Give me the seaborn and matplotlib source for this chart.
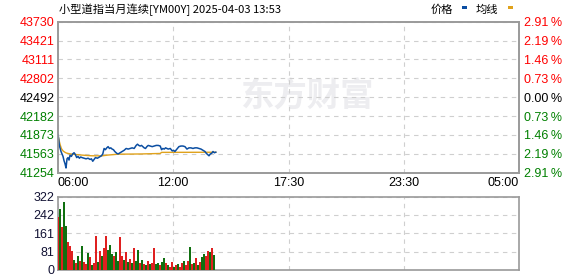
import numpy as np
import pandas as pd
import matplotlib
matplotlib.use("Agg")
import matplotlib.pyplot as plt
import seaborn as sns
from matplotlib.patches import Rectangle

# ---------------- data ----------------
title = "小型道指当月连续[YM00Y] 2025-04-03 13:53"
time_labels = ["06:00", "12:00", "17:30", "23:30", "05:00"]
time_ticks = [0, 345, 690, 1035, 1380]
session_end = 1380
price_ticks = [43730, 43421, 43111, 42802, 42492, 42182, 41873, 41563, 41254]
pct_labels = ["2.91\u2009%", "2.19\u2009%", "1.46\u2009%", "0.73\u2009%", "0.00\u2009%",
              "0.73\u2009%", "1.46\u2009%", "2.19\u2009%", "2.91\u2009%"]
vol_ticks = [0, 81, 161, 242, 322]

price_min = [0, 2, 4, 6, 9, 12, 15, 18, 21, 24, 27, 30, 33, 36, 40, 44, 48, 52, 56, 60,
             64, 68, 72, 78, 84, 90, 96, 100, 104, 108, 112, 118, 124, 130, 134, 138, 142,
             146, 150, 154, 158, 162, 166, 170, 176, 180, 186, 192, 198, 204, 210, 216,
             222, 228, 234, 238, 242, 246, 250, 254, 258, 262, 266, 270, 276, 282, 288,
             294, 300, 306, 310, 314, 318, 322, 326, 330, 336, 342, 346, 350, 356, 362,
             368, 374, 380, 386, 392, 398, 404, 410, 416, 422, 428, 434, 440, 444, 448,
             452, 456, 460, 464, 468, 473]
price_val = [41880, 41800, 41700, 41660, 41600, 41560, 41520, 41450, 41400, 41330, 41480,
             41500, 41460, 41540, 41520, 41560, 41580, 41550, 41500, 41520, 41490, 41510,
             41500, 41490, 41480, 41490, 41470, 41480, 41440, 41470, 41500, 41490, 41510,
             41530, 41560, 41650, 41630, 41660, 41680, 41650, 41660, 41640, 41630, 41600,
             41570, 41560, 41580, 41600, 41620, 41650, 41640, 41650, 41660, 41650, 41700,
             41720, 41700, 41690, 41700, 41680, 41660, 41650, 41680, 41700, 41690, 41680,
             41690, 41700, 41700, 41690, 41630, 41650, 41640, 41660, 41650, 41640, 41650,
             41610, 41620, 41600, 41640, 41680, 41690, 41690, 41680, 41640, 41660, 41660,
             41650, 41660, 41660, 41650, 41640, 41620, 41600, 41570, 41550, 41530, 41560,
             41570, 41600, 41580, 41590]

avg_min = [0, 3, 6, 10, 15, 20, 25, 35, 50, 70, 100, 130, 150, 180, 250, 306, 310, 473]
avg_val = [41873, 41790, 41720, 41650, 41610, 41590, 41575, 41562, 41552, 41542, 41530,
           41528, 41542, 41556, 41560, 41568, 41586, 41588]

vol_min = list(range(0, 474, 6))
vol_val = [232, 268, 190, 300, 195, 125, 105, 82, 45, 30, 60, 40, 105, 35, 25, 73, 55, 20,
           30, 149, 35, 85, 60, 95, 151, 90, 112, 70, 60, 80, 40, 143, 60, 45, 80, 35, 50,
           30, 95, 40, 88, 30, 45, 25, 20, 40, 25, 30, 95, 25, 30, 20, 35, 53, 30, 20, 15,
           35, 15, 20, 25, 15, 30, 40, 20, 40, 100, 25, 30, 53, 20, 35, 55, 70, 60, 85, 80,
           95, 66]
vol_dir = list("rgrgg" "rrrgr" "grgrr" "grgrr" "grgrr" "gggrg" "grrgr" "grgrg" "grgrg"
               "rgrrg" "grggr" "grrgr" "grrgr" "rgrgr" "grggr" "rgrg")

# ---------------- style ----------------
BLUE = "#0b4ea2"
ORANGE = "#e0a21c"
RED = "#ff0000"
GREEN = "#008000"
GRID = "#cfcfcf"
SPINE = "#9a9a9a"
CJK = ["Noto Sans CJK SC", "DejaVu Sans"]

sns.set_theme(style="white")
plt.rcParams["font.family"] = ["Liberation Sans", "DejaVu Sans"]

W, H = 578, 276
fig = plt.figure(figsize=(W / 100, H / 100), dpi=100)
fig.patch.set_facecolor("white")

ax = fig.add_axes([58 / W, (H - 172.6) / H, 461 / W, 150.9 / H])
ax2 = fig.add_axes([58 / W, (H - 270) / H, 461 / W, 73.3 / H])

# watermark
ax.text(0.54, 0.50, "东方财富", transform=ax.transAxes, ha="center", va="center",
        fontsize=24, fontweight="bold", color="#ededf0", family=CJK, zorder=0)

# price + average
sns.lineplot(x=price_min, y=price_val, ax=ax, color=BLUE, lw=1.1, zorder=3)
sns.lineplot(x=avg_min, y=avg_val, ax=ax, color=ORANGE, lw=1.0, zorder=2)

ax.set_xlim(0, session_end)
ax.set_ylim(price_ticks[-1], price_ticks[0])
ax.set_yticks(price_ticks)
ax.set_yticklabels([str(v) for v in price_ticks])
ax.set_xticks(time_ticks)
ax.set_xticklabels(time_labels)
ax.set_xlabel("")
ax.set_ylabel("")
ax.grid(True, color=GRID, ls=(0, (4, 4)), lw=0.8)
ax.tick_params(axis="both", length=0, labelsize=9)
ax.tick_params(axis="y", pad=2.5)
ax.tick_params(axis="x", pad=3)
n = len(price_ticks)
for i, lab in enumerate(ax.get_yticklabels()):
    if i < n // 2:
        lab.set_color(RED)
    elif i == n // 2:
        lab.set_color("#000000")
    else:
        lab.set_color(GREEN)
xl = ax.get_xticklabels()
xl[0].set_ha("left")
xl[-1].set_ha("right")
for lab in xl:
    lab.set_color("#000000")

axr = ax.twinx()
axr.set_ylim(ax.get_ylim())
axr.set_yticks(price_ticks)
axr.set_yticklabels(pct_labels)
axr.tick_params(axis="y", length=0, labelsize=9, pad=3.5)
for i, lab in enumerate(axr.get_yticklabels()):
    if i < n // 2:
        lab.set_color(RED)
    elif i == n // 2:
        lab.set_color("#000000")
    else:
        lab.set_color(GREEN)
axr.grid(False)

for a in (ax, axr, ax2):
    for s in a.spines.values():
        s.set_color(SPINE)
        s.set_linewidth(1.2)
        s.set_visible(True)

# volume bars
vdf = pd.DataFrame({"t": vol_min, "v": vol_val, "d": vol_dir})
sns.barplot(data=vdf, x="t", y="v", hue="d", palette={"r": RED, "g": GREEN},
            native_scale=True, dodge=False, width=1.0, legend=False,
            linewidth=0, ax=ax2, zorder=3)
ax2.set_xlim(0, session_end)
ax2.set_ylim(0, vol_ticks[-1])
ax2.set_yticks(vol_ticks)
ax2.set_yticklabels([str(v) for v in vol_ticks])
ax2.set_xticks(time_ticks)
ax2.set_xticklabels([])
ax2.set_xlabel("")
ax2.set_ylabel("")
ax2.grid(True, color=GRID, ls=(0, (4, 4)), lw=0.8, zorder=0)
ax2.set_axisbelow(True)
ax2.tick_params(axis="both", length=0, labelsize=9, labelcolor="#111133")
ax2.tick_params(axis="y", pad=2.5)

# title + legend
fig.text(59 / W, 1 - 10 / H, title, ha="left", va="center", fontsize=8.1,
         family=CJK, color="#000000")
fig.text(431 / W, 1 - 10 / H, "价格", ha="left", va="center", fontsize=8.1,
         family=CJK, color="#000000")
fig.text(476 / W, 1 - 10 / H, "均线", ha="left", va="center", fontsize=8.1,
         family=CJK, color="#000000")
fig.patches.append(Rectangle((462 / W, (H - 8.8) / H), 5 / W, 2.6 / H,
                             transform=fig.transFigure, color=BLUE, lw=0))
fig.patches.append(Rectangle((508 / W, (H - 8.8) / H), 5 / W, 2.6 / H,
                             transform=fig.transFigure, color=ORANGE, lw=0))

fig.savefig("out.png", dpi=100, facecolor="white")
